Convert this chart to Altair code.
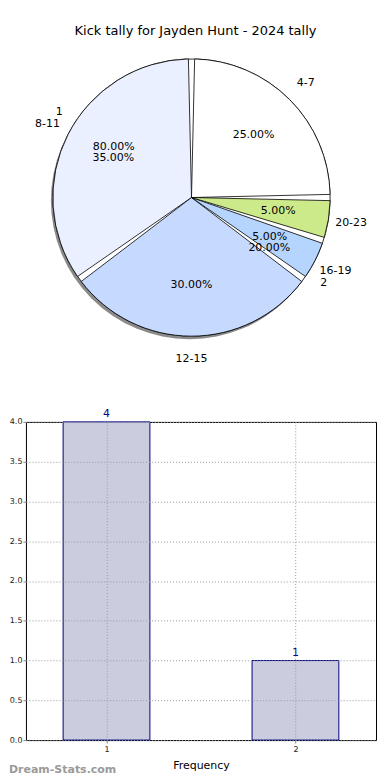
import math
import altair as alt
import pandas as pd

# ---------------- data ----------------
title_text = "Kick tally for Jayden Hunt - 2024 tally"

ranges = ["4-7", "8-11", "12-15", "16-19", "20-23"]
range_pct = [25, 35, 30, 5, 5]
range_order = [0, 4, 3, 2, 1]
range_colors = ["#ffffff", "#eaf0ff", "#c6d9ff", "#b5d5ff", "#cdea8a"]

kicks = ["1", "2"]
kick_pct = [80, 20]
kick_order = [1, 0]

freq_x = [1, 2]
freq_y = [4, 1]
y_ticks = [0.0, 0.5, 1.0, 1.5, 2.0, 2.5, 3.0, 3.5, 4.0]

FONT = "DejaVu Sans"
CX, CY, R = 166, 189, 139

# ---------------- pie ----------------
pie_df = pd.DataFrame({
    "range": ranges, "pct": range_pct, "ord": range_order,
    "label": [f"{v:.2f}%" for v in range_pct],
})
kick_df = pd.DataFrame({
    "kick": kicks, "pct": kick_pct, "ord": kick_order,
    "label": [f"{v:.2f}%" for v in kick_pct],
})

shadow = alt.Chart(pd.DataFrame({"a": [0]})).mark_arc(
    radius=R, theta=0, theta2=2 * math.pi, color="#8a8a8a"
).encode(x=alt.value(CX - 2), y=alt.value(CY + 3))

start = 87 * math.pi / 180
kbase = alt.Chart(kick_df).encode(
    theta=alt.Theta("pct:Q", stack=True, scale=alt.Scale(range=[start, start + 2 * math.pi])),
    order=alt.Order("ord:Q"),
    x=alt.value(CX), y=alt.value(CY),
)
karcs = kbase.mark_arc(radius=R, fill="white", stroke="black", strokeWidth=0.8)
ktxt = kbase.mark_text(radius=93, font=FONT, fontSize=11).encode(text="label:N")
klab = kbase.mark_text(radius=158, font=FONT, fontSize=11).encode(text="kick:N")

base = alt.Chart(pie_df).encode(
    theta=alt.Theta("pct:Q", stack=True),
    order=alt.Order("ord:Q"),
    x=alt.value(CX), y=alt.value(CY),
)
arcs = base.mark_arc(radius=R, stroke="black", strokeWidth=0.8, padAngle=0.045).encode(
    color=alt.Color("range:N", scale=alt.Scale(domain=ranges, range=range_colors), legend=None)
)
ptxt = base.mark_text(radius=88, font=FONT, fontSize=11).encode(text="label:N")
plab = base.mark_text(radius=162, font=FONT, fontSize=11).encode(text="range:N")

title_mark = alt.Chart(pd.DataFrame({"t": [title_text]})).mark_text(
    font=FONT, fontSize=13, color="black"
).encode(text="t:N", x=alt.value(187 - 17), y=alt.value(22))

pie = alt.layer(shadow, karcs, arcs, ptxt, plab, ktxt, klab, title_mark).resolve_scale(
    theta="independent"
).properties(width=357, height=380, view=alt.ViewBackground(stroke=None))

# ---------------- bar ----------------
bar_df = pd.DataFrame({"x": freq_x, "y": freq_y})
xenc = alt.X("x:Q", scale=alt.Scale(domain=[0.6, 2.4], nice=False, zero=False),
             axis=alt.Axis(values=freq_x, format="d", title="Frequency", grid=True,
                           gridDash=[1, 2], gridColor="#999", labelFontSize=8,
                           titleFontSize=11, titleFontWeight="normal", domain=False,
                           tickSize=3, labelPadding=2, titlePadding=7, zindex=1,
                           labelColor="#222", titleColor="black"))
yenc = alt.Y("y:Q", scale=alt.Scale(domain=[0, 4], nice=False),
             axis=alt.Axis(values=y_ticks, format=".1f", title=None, grid=True,
                           gridDash=[1, 2], gridColor="#999", labelFontSize=8,
                           labelOverlap=False, domain=False, tickSize=3,
                           labelPadding=1, zindex=1, labelColor="#222"))
bars = alt.Chart(bar_df).mark_bar(size=87, fill="#ccccdf", stroke="#000080", strokeWidth=1).encode(
    x=xenc, y=yenc)
btxt = alt.Chart(bar_df).mark_text(dy=-8, color="#000080", font=FONT, fontSize=11).encode(
    x=xenc, y=yenc, text="y:Q")
mark_wm = alt.Chart(pd.DataFrame({"t": ["Dream-Stats.com"]})).mark_text(
    align="left", font=FONT, fontSize=11, fontWeight="bold", color="#9a9a9a"
).encode(text="t:N", x=alt.value(-17), y=alt.value(30 + 319))

bar = alt.layer(bars, btxt, mark_wm).properties(
    width=351, height=319, view=alt.ViewBackground(stroke="black", strokeWidth=1))

chart = alt.vconcat(pie, bar, spacing=19).properties(padding=0).configure(font=FONT)
chart.save("out.html", embed_options={"renderer": "svg", "actions": False})
